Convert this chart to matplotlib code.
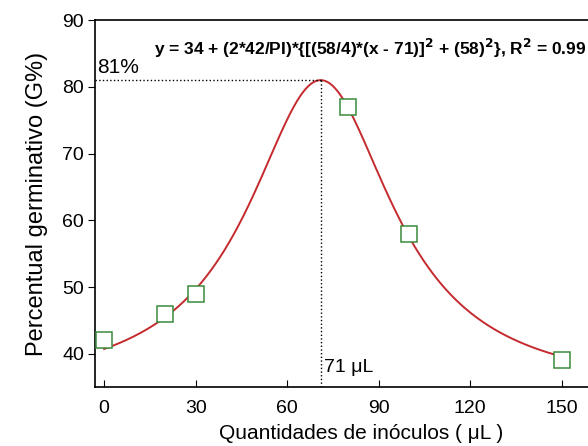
import numpy as np
import matplotlib.pyplot as plt

plt.rcParams['font.family'] = ['Liberation Sans', 'DejaVu Sans']

# measured points
doses = [0, 20, 30, 80, 100, 150]
germination = [42, 46, 49, 77, 58, 39]

# Lorentz fit parameters (y0, xc, w, area)
y0, xc, w, area = 34, 71, 58, 4282
peak_y = 81

x_fit = np.linspace(0, 150, 400)
y_fit = y0 + (2 * area / np.pi) * (w / (4 * (x_fit - xc) ** 2 + w ** 2))

fig = plt.figure(figsize=(5.88, 4.46), dpi=100)
ax = fig.add_axes([0.1616, 0.132, 0.838, 0.823])

ax.plot(x_fit, y_fit, color='#c42a2e', linewidth=1.4, zorder=2)
ax.plot(doses, germination, linestyle='none', marker='s', markersize=11,
        markerfacecolor='white', markeredgecolor='#3a8a3a', markeredgewidth=1.1, zorder=3)

ax.plot([-3, xc], [peak_y, peak_y], color='black', linestyle=':', linewidth=1)
ax.plot([xc, xc], [35, peak_y], color='black', linestyle=':', linewidth=1)

ax.text(-2.3, 82.0, '81%', fontsize=15)
ax.text(72, 37.2, '71 μL', fontsize=14)
ax.text(158.2, 85.8,
        r'y = 34 + (2*42/PI)*{[(58/4)*(x - 71)]$^\mathbf{2}$ + (58)$^\mathbf{2}$}, R$^\mathbf{2}$ = 0.99',
        fontsize=12.5, fontweight='bold', ha='right', va='center')

ax.set_xlim(-3, 158.6)
ax.set_ylim(35, 90)
ax.set_xticks([0, 30, 60, 90, 120, 150])
ax.set_yticks([40, 50, 60, 70, 80, 90])
ax.tick_params(axis='x', direction='in', length=5, labelsize=14, pad=9)
ax.tick_params(axis='y', direction='out', length=5, labelsize=14, pad=3)
ax.spines['right'].set_visible(False)
for s in ['left', 'bottom', 'top']:
    ax.spines[s].set_linewidth(1.2)

ax.set_xlabel('Quantidades de inóculos ( μL )', fontsize=15, labelpad=3)
ax.xaxis.set_label_coords(0.54, -0.1)
ax.set_ylabel('Percentual germinativo (G%)', fontsize=17, labelpad=10)

fig.savefig('out.png', dpi=100)
